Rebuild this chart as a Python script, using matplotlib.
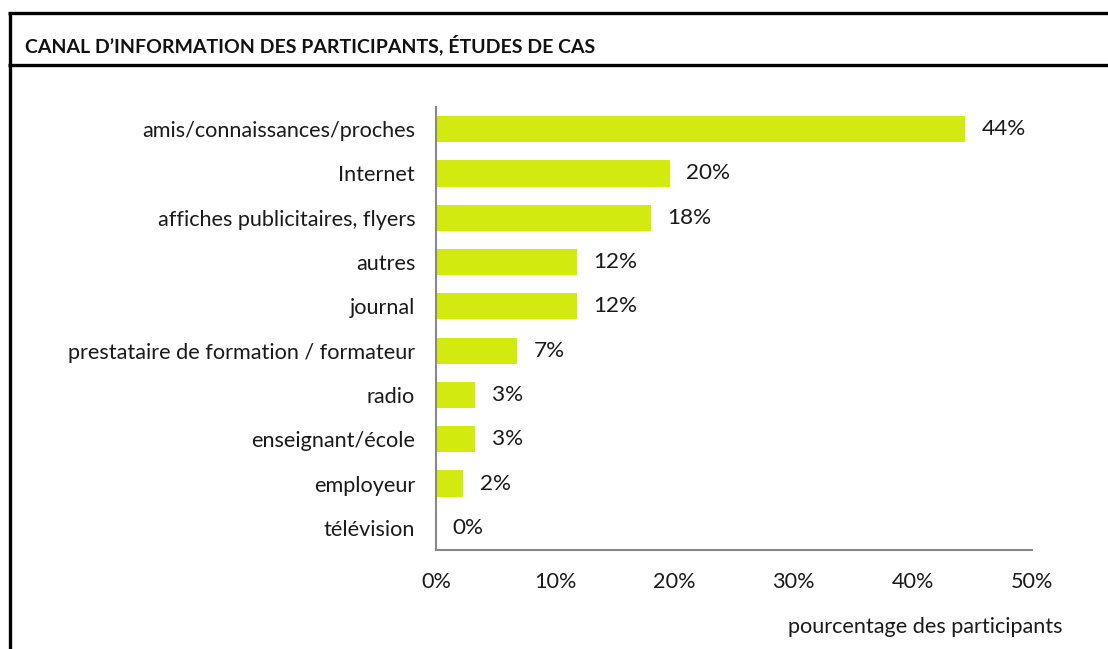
import matplotlib
matplotlib.use("Agg")
import matplotlib.pyplot as plt
from matplotlib.lines import Line2D

plt.rcParams['font.family'] = ['Lato', 'DejaVu Sans']

categories = ["amis/connaissances/proches", "Internet", "affiches publicitaires, flyers",
              "autres", "journal", "prestataire de formation / formateur", "radio",
              "enseignant/école", "employeur", "télévision"]
values = [44.4, 19.6, 18.0, 11.8, 11.8, 6.8, 3.3, 3.3, 2.3, 0.0]
labels = ["44%", "20%", "18%", "12%", "12%", "7%", "3%", "3%", "2%", "0%"]
xticks = [0, 10, 20, 30, 40, 50]
xticklabels = ["0%", "10%", "20%", "30%", "40%", "50%"]
title = "CANAL D’INFORMATION DES PARTICIPANTS, ÉTUDES DE CAS"
xlabel = "pourcentage des participants"

W, H = 1108, 649
fig = plt.figure(figsize=(W / 100, H / 100), dpi=100)

def fx(px):
    return px / W

def fy(py):
    return 1 - py / H

FS = 15.6
TXT = "#1a1a1a"

ax = fig.add_axes([fx(436), fy(550), fx(1032) - fx(436), fy(107) - fy(550)])
ypos = list(range(len(categories)))
ax.barh(ypos, values, height=0.59, color="#D3EA10")
ax.set_ylim(len(categories) - 0.5, -0.5)
ax.set_xlim(0, 50)
ax.set_yticks(ypos)
ax.set_yticklabels(categories, fontsize=FS, color=TXT)
ax.set_xticks(xticks)
ax.set_xticklabels(xticklabels, fontsize=FS, color=TXT)
ax.tick_params(axis='both', length=0)
ax.tick_params(axis='y', pad=15)
ax.tick_params(axis='x', pad=16)
for s in ["top", "right"]:
    ax.spines[s].set_visible(False)
for s in ["left", "bottom"]:
    ax.spines[s].set_color("#888888")
    ax.spines[s].set_linewidth(1.5)

for y, v, lab in zip(ypos, values, labels):
    ax.annotate(lab, xy=(v, y), xytext=(12, 0), textcoords="offset points",
                va="center", ha="left", fontsize=FS + 0.6, color=TXT)

fig.text(fx(1063), fy(627), xlabel, ha="right", va="center", fontsize=FS, color=TXT)

fig.text(fx(25), fy(45), title, ha="left", va="center", fontsize=14, fontweight="bold",
         color="#111111")

lw = 2.4
fig.add_artist(Line2D([fx(8), 1], [fy(12.5), fy(12.5)], color="black", lw=lw,
                      solid_capstyle="butt"))
fig.add_artist(Line2D([fx(8), 1], [fy(65), fy(65)], color="black", lw=lw,
                      solid_capstyle="butt"))
fig.add_artist(Line2D([fx(9.5), fx(9.5)], [fy(12.5), 0], color="black", lw=lw,
                      solid_capstyle="butt"))

fig.savefig("out.png", dpi=100)
